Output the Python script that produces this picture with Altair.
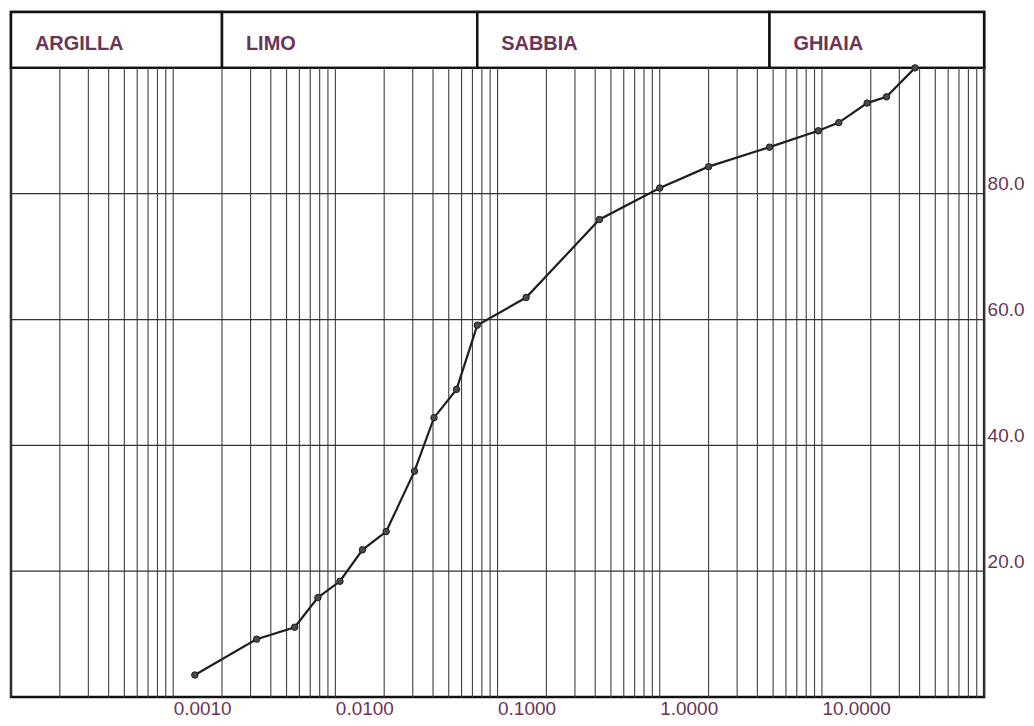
import altair as alt
import pandas as pd

# --- data -------------------------------------------------------------------
diameter_mm = [0.00136, 0.00327, 0.00561, 0.0078, 0.01067, 0.01469, 0.02057,
               0.03076, 0.04058, 0.05585, 0.075, 0.15, 0.425, 1.0, 2.0, 4.75,
               9.5, 12.7, 19.0, 25.0, 37.5]
passing_pct = [3.5, 9.2, 11.1, 15.8, 18.4, 23.4, 26.3, 35.9, 44.4, 48.9, 59.1,
               63.5, 75.9, 80.9, 84.3, 87.4, 90.0, 91.3, 94.4, 95.4, 100.0]

classes = ["ARGILLA", "LIMO", "SABBIA", "GHIAIA"]
class_lo = [0.0001, 0.002, 0.075, 4.75]
class_hi = [0.002, 0.075, 4.75, 100.0]

x_tick_values = [0.001, 0.01, 0.1, 1.0, 10.0]
y_tick_values = [20, 40, 60, 80]

mantissas = [1, 2, 3, 4, 5, 6, 7, 8, 9]
decades = [0.0001, 0.001, 0.01, 0.1, 1.0, 10.0]
grid_x = [m * d for d in decades for m in mantissas] + [100.0]
grid_y = [20, 40, 60, 80]

# --- styling ----------------------------------------------------------------
W = 976
H_HEAD = 56
H_MAIN = 631
TEXT_COL = "#6a3556"
FONT = "Liberation Sans"

xs = alt.Scale(type="log", domain=[0.0001, 100], nice=False)
ys = alt.Scale(domain=[0, 100], nice=False)

df = pd.DataFrame({"d": diameter_mm, "p": passing_pct})
df_gx = pd.DataFrame({"d": grid_x})
df_gy = pd.DataFrame({"p": grid_y})
df_cls = pd.DataFrame({"name": classes, "d": class_lo, "hi": class_hi})

x_axis = alt.Axis(values=x_tick_values, format=".4f", labelAlign="left",
                  labelBaseline="top", labelPadding=3, ticks=False,
                  domain=False, grid=False, title=None, labelFontSize=19,
                  labelFont=FONT, labelColor=TEXT_COL, labelFlush=False,
                  labelOverlap=False)
y_axis = alt.Axis(values=y_tick_values, format=".1f", orient="right",
                  labelAlign="left", labelBaseline="bottom", labelPadding=3,
                  ticks=False, domain=False, grid=False, title=None,
                  labelFontSize=19, labelFont=FONT, labelColor=TEXT_COL,
                  labelOverlap=False)

x_enc = alt.X("d:Q", scale=xs, axis=x_axis, title=None)
y_enc = alt.Y("p:Q", scale=ys, axis=y_axis, title=None)

vgrid = alt.Chart(df_gx).mark_rule(color="#474747", strokeWidth=1.15).encode(
    x=x_enc
)
hgrid = alt.Chart(df_gy).mark_rule(color="#333333", strokeWidth=1.3).encode(
    y=y_enc
)
line = alt.Chart(df).mark_line(color="#1e1e1e", strokeWidth=2.2).encode(
    x=x_enc, y=y_enc
)
pts = alt.Chart(df).mark_point(filled=True, size=42, color="#4a4a4a",
                               stroke="#1a1a1a", strokeWidth=1,
                               opacity=1).encode(x=x_enc, y=y_enc)
main = alt.layer(vgrid, hgrid, line, pts).properties(width=W, height=H_MAIN)

hx = alt.X("d:Q", scale=xs, axis=None, title=None)
head_box = alt.Chart(df_cls).mark_rect(fill="white", stroke="#111111",
                                       strokeWidth=2.5).encode(
    x=hx,
    x2="hi:Q",
    y=alt.value(0),
    y2=alt.value(H_HEAD),
)
head_txt = alt.Chart(df_cls).mark_text(align="left", baseline="middle",
                                       dx=24, dy=4, fontSize=20,
                                       fontWeight="bold", font=FONT,
                                       color=TEXT_COL).encode(
    x=hx,
    y=alt.value(H_HEAD / 2),
    text="name:N",
)
header = alt.layer(head_box, head_txt).properties(width=W, height=H_HEAD)

chart = alt.vconcat(header, main, spacing=0, bounds="flush").properties(
    padding=0, background="white"
).configure_view(stroke="#111111", strokeWidth=2.5)

chart.save("out.html", embed_options={"renderer": "svg", "actions": False})
